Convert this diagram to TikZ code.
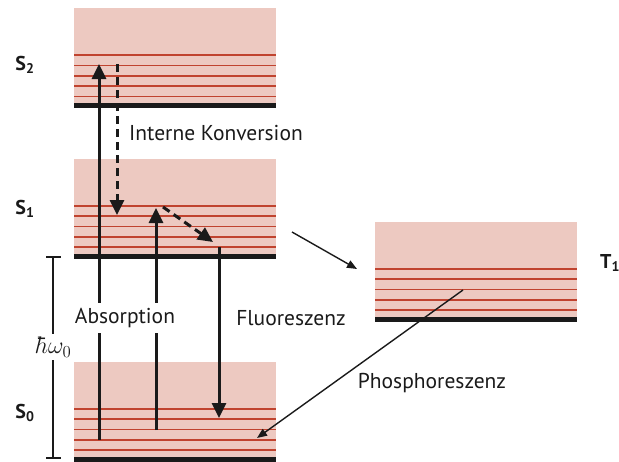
\RequirePackage{fix-cm}
\documentclass[tikz,border=0pt]{standalone}
\usepackage{fontspec}
\setmainfont{PT Sans}
\usetikzlibrary{arrows.meta}
\definecolor{levelfill}{HTML}{EDC9C1}
\definecolor{levelline}{HTML}{C0432F}
\definecolor{ink}{HTML}{1A1A1A}
\tikzset{
  txt/.style={font=\fontsize{21.5}{25}\selectfont, text=ink, inner sep=1pt},
  statelbl/.style={font=\fontsize{20}{24}\selectfont\bfseries, text=ink, inner sep=0pt},
  bigarrow/.style={draw=ink, line width=3pt, -{Triangle[width=14pt,length=15pt]}},
  dasharrow/.style={bigarrow, dash pattern=on 8pt off 5pt},
  thinarrow/.style={draw=ink, line width=1.4pt, -{Triangle[width=8pt,length=10pt]}},
  baseline/.style={draw=ink, line width=5pt},
  sublevel/.style={draw=levelline, line width=1.7pt},
}
\newcommand{\enlevel}[4]{%
  \fill[levelfill] (#1,#3) rectangle (#2,#4);
  \foreach \o in {9,19.3,29.6,40,50.3} {\draw[sublevel] (#1,#4-\o) -- (#2,#4-\o);}
  \draw[baseline] (#1,#4) -- (#2,#4);
}
\begin{document}
\begin{tikzpicture}[x=1pt,y=-1pt]
\useasboundingbox (0,0) rectangle (619,461);
% levels
\enlevel{74}{276}{8}{105.5}
\enlevel{74}{276}{159}{256}
\enlevel{74}{276}{362}{459}
\enlevel{375}{577}{222}{319}
% state labels
\node[statelbl] (s2) at (25,65) {S\textsubscript{2}};
\node[statelbl] (s1) at (25,209) {S\textsubscript{1}};
\node[statelbl] (s0) at (25,413) {S\textsubscript{0}};
\node[statelbl, anchor=west] (t1) at (600,263) {T\textsubscript{1}};
% coordinates
\coordinate (a1s) at (99,440);
\coordinate (a1e) at (99,64);
\coordinate (a2s) at (156,430);
\coordinate (a2e) at (156,208);
\coordinate (fs) at (219,247);
\coordinate (fe) at (219,418);
\coordinate (ics) at (117,64);
\coordinate (ice) at (117,215);
\coordinate (ds) at (163,207);
\coordinate (de) at (213,242);
\coordinate (iscs) at (292,232);
\coordinate (isce) at (357,269);
\coordinate (ps) at (463,290);
\coordinate (pe) at (257,438);
\coordinate (bt) at (53,257);
\coordinate (bb) at (53,458);
% bracket
\draw[draw=ink, line width=1.4pt] (bt) -- (bb);
\draw[draw=ink, line width=1.4pt] (46,257) -- (61,257);
\draw[draw=ink, line width=1.4pt] (46,458) -- (61,458);
\node[fill=white, inner xsep=0pt, inner ysep=3pt, text=ink, font=\fontsize{24}{28}\selectfont] (hw) at (54,347) {$\hbar\omega_0$};
% arrows
\draw[bigarrow] (a1s) -- (a1e);
\draw[bigarrow] (a2s) -- (a2e);
\draw[bigarrow] (fs) -- (fe);
\draw[dasharrow] (ics) -- (ice);
\draw[dasharrow] (ds) -- (de);
\draw[thinarrow] (iscs) -- (isce);
\draw[thinarrow] (ps) -- (pe);
% labels
\node[txt, fill=white, inner ysep=5pt] (abs) at (125,318) {Absorption};
\node[txt, fill=white] (ic) at (216,133) {Interne Konversion};
\node[txt] (fl) at (291,318) {Fluoreszenz};
\node[txt] (ph) at (432,383) {Phosphoreszenz};
\end{tikzpicture}
\end{document}
